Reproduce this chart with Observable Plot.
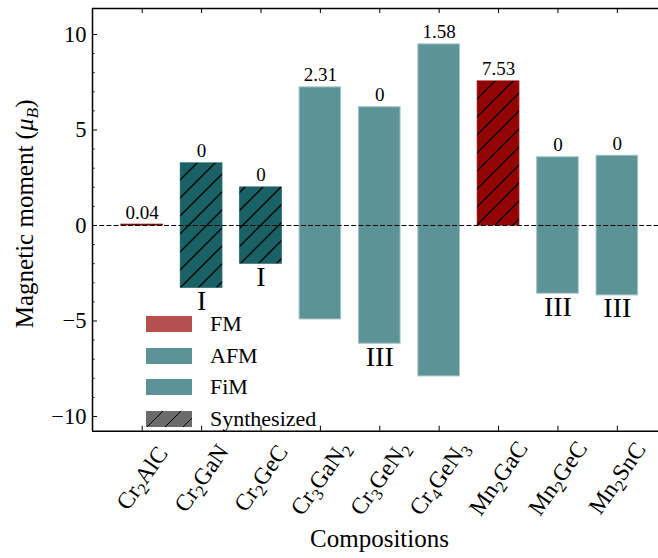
<!DOCTYPE html>
<html><head><meta charset="utf-8">
<script src="https://cdn.jsdelivr.net/npm/d3@7"></script>
<script src="https://cdn.jsdelivr.net/npm/@observablehq/plot@0.6"></script>
<style>
html,body{margin:0;padding:0;background:#fff;}
#wrap{position:relative;width:658px;height:558px;font-family:"Liberation Serif",serif;}
#wrap svg, #wrap svg text{font-family:"Liberation Serif",serif;}
#legend{position:absolute;left:146px;top:316px;}
.row{position:absolute;left:0;height:16px;width:220px;}
.sw{position:absolute;left:0;top:0;width:46px;height:16px;}
.lb{position:absolute;left:64px;top:0;line-height:16px;font-size:22px;color:#000;white-space:nowrap;}
</style></head><body><div id="wrap"></div>
<script>
// ---- data ----
const compositions = ["Cr₂AlC","Cr₂GaN","Cr₂GeC","Cr₃GaN₂","Cr₃GeN₂","Cr₄GeN₃","Mn₂GaC","Mn₂GeC","Mn₂SnC"];
const upMoment   = [0.04, 3.25, 1.99, 7.23, 6.19, 9.48, 7.54, 3.57, 3.65];
const downMoment = [0, -3.26, -2.0, -4.92, -6.19, -7.90, 0, -3.57, -3.66];
const netMoment  = ["0.04","0","0","2.31","0","1.58","7.53","0","0"];
const magneticOrder = ["FM","AFM","AFM","FiM","AFM","FiM","FM","AFM","AFM"];
const synthesized = [true, true, true, false, false, false, true, false, false];
const structureType = ["","I","I","","III","","","III","III"];
const yMajorTicks = [-10, -5, 0, 5, 10];
const yMinorTicks = [-9,-8,-7,-6,-4,-3,-2,-1,1,2,3,4,6,7,8,9];
const yDomain = [-10.77, 11.36];
const xDomain = [-0.837, 8.837];
const legendLabels = ["FM","AFM","FiM","Synthesized"];
const orderColors = {FM: "#b55050", AFM: "#5b9396", FiM: "#5b9396"};
const synthColors = {FM: "#930505", AFM: "#1a6165", FiM: "#1a6165"};
const legendColors = ["#b55050","#5b9396","#5b9396","#6b6b6b"];
const xLabel = "Compositions";
const yLabel = "Magnetic moment (μB)";

const data = compositions.map((c, i) => ({
  i, c, up: upMoment[i], down: downMoment[i], net: netMoment[i],
  order: magneticOrder[i], synth: synthesized[i], type: structureType[i]
}));
const fillOf = d => d.synth ? synthColors[d.order] : orderColors[d.order];

const W = 658, H = 558, mL = 92, mT = 8, mB = 127.3;
const plotH = H - mT - mB;
const font = '"Liberation Serif", serif';

const chart = Plot.plot({
  width: W, height: H,
  marginLeft: mL, marginTop: mT, marginBottom: mB, marginRight: 0,
  x: {type: "linear", domain: xDomain, range: [mL, mL + 9.674 * 59.39], axis: null},
  y: {domain: yDomain, axis: null},
  color: {type: "identity"},
  style: 'font-family: "Liberation Serif", serif; font-size: 22px; background: white; color: black;',
  marks: [
    Plot.rectY(data, {x1: d => d.i - 0.35, x2: d => d.i + 0.35, y1: "down", y2: "up",
      fill: fillOf, stroke: d => d.synth ? fillOf(d) : "#a3c2c3", strokeWidth: 1}),
    Plot.rectY(data.filter(d => d.synth), {x1: d => d.i - 0.35, x2: d => d.i + 0.35, y1: "down", y2: "up",
      fill: "url(#hatch)"}),
    Plot.ruleY([0], {stroke: "black", strokeWidth: 1, strokeDasharray: "5,2.2"}),
    Plot.ruleY([yDomain[0], yDomain[1]], {stroke: "black", strokeWidth: 1.5}),
    Plot.ruleX([xDomain[0]], {stroke: "black", strokeWidth: 1.5}),
    Plot.ruleY(yMajorTicks, {stroke: "black", strokeWidth: 1, insetRight: W - mL - 5}),
    Plot.ruleY(yMinorTicks, {stroke: "black", strokeWidth: 0.8, insetRight: W - mL - 2.8}),
    Plot.ruleX(data, {x: "i", stroke: "black", strokeWidth: 1, insetBottom: plotH - 5}),
    Plot.ruleX(data, {x: "i", stroke: "black", strokeWidth: 1, insetTop: plotH - 5}),
    Plot.axisY({ticks: yMajorTicks, tickFormat: d => (d < 0 ? "\u2212" : "") + Math.abs(d),
      tickSize: 0, tickPadding: 6, fontSize: 22.5, fontFamily: font, label: null}),
    Plot.axisX({ticks: data.map(d => d.i), tickFormat: i => compositions[i], tickSize: 0, tickPadding: 47,
      tickRotate: -55, textAnchor: "middle", lineAnchor: "middle", fontSize: 23.5, fontFamily: font, label: null}),
    Plot.text(data, {x: "i", y: d => Math.max(d.up, 0), text: "net", lineAnchor: "bottom", dy: -6, fontSize: 19, fontFamily: font, fill: "black"}),
    Plot.text(data.filter(d => d.type), {x: "i", y: "down", text: "type", lineAnchor: "top", dy: 2, fontSize: 28, fontFamily: font, fill: "black"}),
    Plot.text([xLabel], {text: d => d, frameAnchor: "bottom", dx: 4, dy: 116, lineAnchor: "bottom", fontSize: 25, fontFamily: font, fill: "black"}),
    Plot.text([yLabel], {text: d => d, x: xDomain[0], y: (yDomain[0] + yDomain[1]) / 2, rotate: -90, textAnchor: "middle",
      dx: -60, dy: -6, lineAnchor: "bottom", fontSize: 25, fontFamily: font, fill: "black"})
  ]
});
chart.setAttribute("font-family", font);

// hatch pattern definition
const NS = "http://www.w3.org/2000/svg";
const defs = document.createElementNS(NS, "defs");
defs.innerHTML = `<pattern id="hatch" patternUnits="userSpaceOnUse" width="18" height="18">
  <path d="M-4.5,4.5 l9,-9 M0,18 l18,-18 M13.5,22.5 l9,-9" stroke="black" stroke-width="1.3" fill="none"/></pattern>`;
chart.insertBefore(defs, chart.firstChild);

// subscripts / math in text
const subMap = {"₀":"0","₁":"1","₂":"2","₃":"3","₄":"4","₅":"5","₆":"6","₇":"7","₈":"8","₉":"9"};
chart.querySelectorAll("text").forEach(t => {
  const s = t.textContent;
  if (/[₀-₉]/.test(s)) {
    while (t.firstChild) t.removeChild(t.firstChild);
    let shifted = false;
    for (const ch of s) {
      const ts = document.createElementNS(NS, "tspan");
      if (subMap[ch]) {
        ts.textContent = subMap[ch];
        ts.setAttribute("font-size", "16.5px");
        if (!shifted) { ts.setAttribute("dy", "5"); shifted = true; }
      } else {
        ts.textContent = ch;
        if (shifted) { ts.setAttribute("dy", "-5"); shifted = false; }
      }
      t.appendChild(ts);
    }
  } else if (s === yLabel) {
    while (t.firstChild) t.removeChild(t.firstChild);
    const a = document.createElementNS(NS, "tspan"); a.textContent = "Magnetic moment (";
    const b = document.createElementNS(NS, "tspan"); b.textContent = "μ"; b.setAttribute("font-style", "italic");
    const c = document.createElementNS(NS, "tspan"); c.textContent = "B"; c.setAttribute("font-style", "italic");
    c.setAttribute("font-size", "17.5px"); c.setAttribute("dy", "5");
    const e = document.createElementNS(NS, "tspan"); e.textContent = ")"; e.setAttribute("dy", "-5");
    t.append(a, b, c, e);
  }
});

const wrap = document.getElementById("wrap");
wrap.appendChild(chart);

// legend
const legend = document.createElement("div");
legend.id = "legend";
legendLabels.forEach((lab, k) => {
  const row = document.createElement("div");
  row.className = "row";
  row.style.top = (k * 31.7) + "px";
  const sw = document.createElement("span");
  sw.className = "sw";
  sw.style.background = legendColors[k];
  if (lab === "Synthesized") {
    sw.style.background = `repeating-linear-gradient(135deg, ${legendColors[k]} 0px, ${legendColors[k]} 11.4px, #000 11.4px, #000 12.7px)`;
  }
  const lb = document.createElement("span");
  lb.className = "lb";
  lb.textContent = lab;
  row.append(sw, lb);
  legend.appendChild(row);
});
wrap.appendChild(legend);
</script></body></html>
